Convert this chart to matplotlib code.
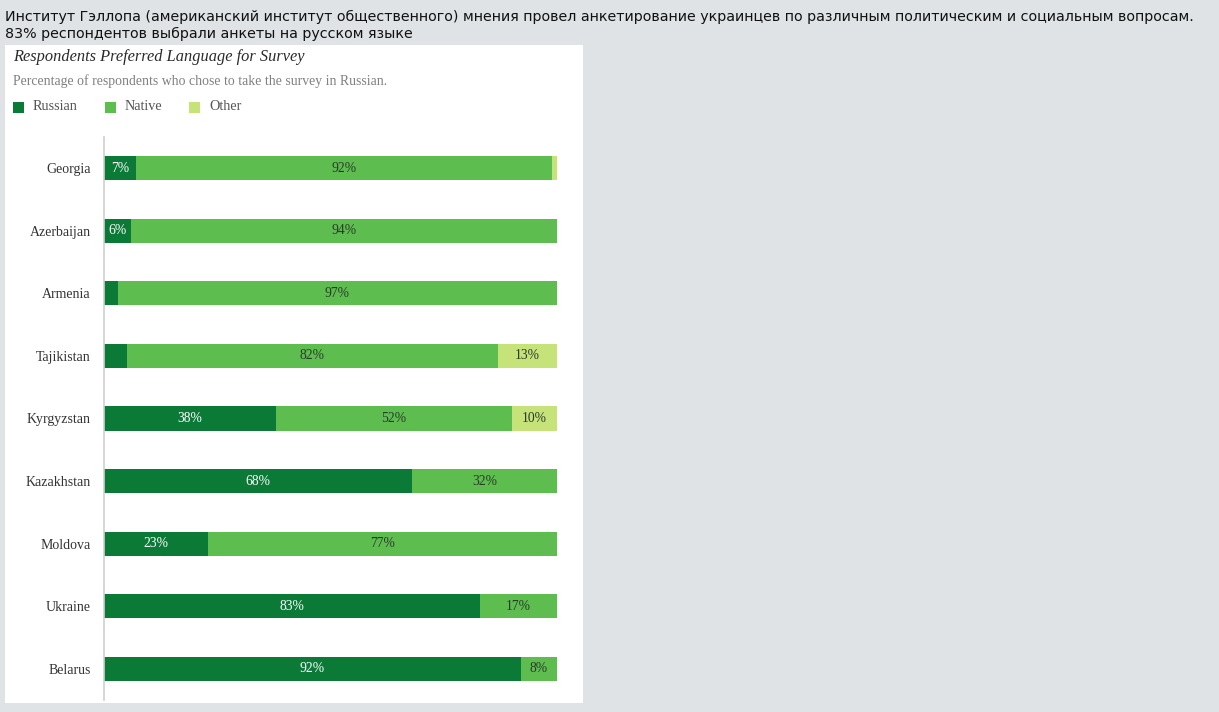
import matplotlib.pyplot as plt
import matplotlib.patches as mpatches
import numpy as np

countries = ['Georgia', 'Azerbaijan', 'Armenia', 'Tajikistan', 'Kyrgyzstan',
             'Kazakhstan', 'Moldova', 'Ukraine', 'Belarus']
russian = [7, 6, 3, 5, 38, 68, 23, 83, 92]
native = [92, 94, 97, 82, 52, 32, 77, 17, 8]
other = [1, 0, 0, 13, 10, 0, 0, 0, 0]

series_names = ['Russian', 'Native', 'Other']
colors = ['#0b7a37', '#5dbd4f', '#c6e37a']
label_colors = ['white', '#2b3a2b', '#2b3a2b']

W, H = 1219, 712
fig = plt.figure(figsize=(W / 100, H / 100), dpi=100)
fig.patch.set_facecolor('#dfe3e6')

# white panel holding the chart
fig.patches.append(mpatches.Rectangle((5 / W, (H - 703) / H), 578 / W, 658 / H,
                                      transform=fig.transFigure, facecolor='white',
                                      edgecolor='none', zorder=-5))

# page text above
fig.text(5 / W, 1 - 17 / H,
         'Институт Гэллопа (американский институт общественного) мнения провел анкетирование украинцев по различным политическим и социальным вопросам.',
         fontsize=10.3, family='DejaVu Sans', color='#111111', va='center', ha='left')
fig.text(5 / W, 1 - 34 / H, '83% респондентов выбрали анкеты на русском языке',
         fontsize=10.3, family='DejaVu Sans', color='#111111', va='center', ha='left')

serif = ['Liberation Serif', 'DejaVu Serif']
fig.text(13 / W, 1 - 57 / H, 'Respondents Preferred Language for Survey',
         fontsize=11.8, family=serif, style='italic', color='#2a2a2a', va='center')
fig.text(13 / W, 1 - 81 / H, 'Percentage of respondents who chose to take the survey in Russian.',
         fontsize=9.9, family=serif, color='#808080', va='center')

# legend drawn by hand like the original
leg_x = [13, 105, 189]
for name, c, lx in zip(series_names, colors, leg_x):
    fig.patches.append(mpatches.Rectangle((lx / W, 1 - 113 / H), 11 / W, 11 / H,
                                          transform=fig.transFigure, facecolor=c,
                                          edgecolor='none'))
    fig.text((lx + 20) / W, 1 - 107 / H, name, fontsize=10.2, family=serif,
             color='#555555', va='center')

ax = fig.add_axes([104 / W, (H - 700) / H, 453 / W, 563 / H])
ax.set_facecolor('none')
y = np.arange(len(countries))
left = np.zeros(len(countries))
for vals, c, lc in zip([russian, native, other], colors, label_colors):
    vals = np.array(vals, dtype=float)
    ax.barh(y, vals, left=left, height=0.385, color=c, edgecolor='none')
    for yi, l, v in zip(y, left, vals):
        if v >= 6:
            ax.text(l + v / 2, yi, f'{int(v)}%', ha='center', va='center',
                    fontsize=9.8, family=serif, color=lc)
    left += vals

ax.set_xlim(0, 100)
ax.set_ylim(len(countries) - 0.5, -0.5)
ax.set_yticks(y)
ax.set_yticklabels(countries, family=serif, fontsize=10, color='#333333')
ax.tick_params(axis='y', length=0, pad=9.5)
ax.set_xticks([])
for s in ['top', 'right', 'bottom']:
    ax.spines[s].set_visible(False)
ax.spines['left'].set_color('#cfcfcf')
ax.spines['left'].set_linewidth(1.2)

fig.savefig('out.png', dpi=100, facecolor=fig.get_facecolor())
